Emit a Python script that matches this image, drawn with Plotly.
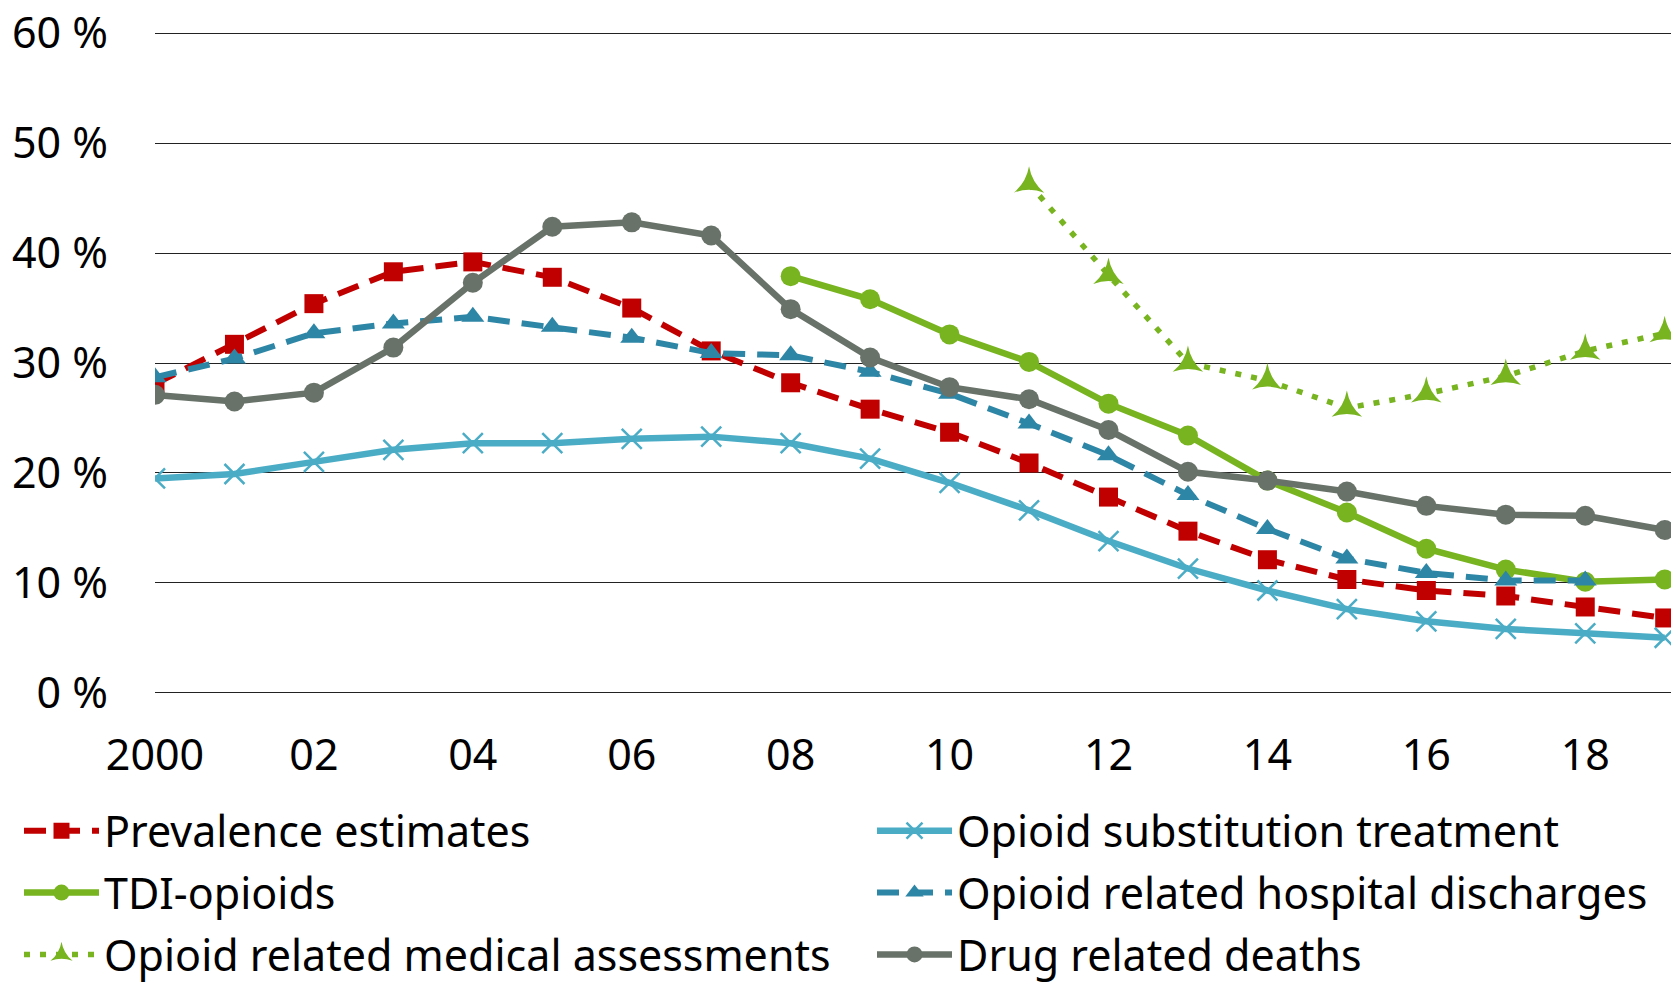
import plotly.graph_objects as go

years = list(range(2000, 2020))

prevalence = [28.1, 31.7, 35.4, 38.3, 39.2, 37.8, 35.0, 31.1, 28.2, 25.8,
              23.7, 20.9, 17.8, 14.7, 12.1, 10.3, 9.3, 8.8, 7.8, 6.8]
ost = [19.5, 19.9, 21.0, 22.1, 22.7, 22.7, 23.1, 23.3, 22.7, 21.3,
       19.1, 16.6, 13.8, 11.3, 9.3, 7.6, 6.5, 5.8, 5.4, 5.0]
tdi_years = list(range(2008, 2020))
tdi = [37.9, 35.8, 32.6, 30.1, 26.3, 23.4, 19.3, 16.4, 13.1, 11.2, 10.1, 10.3]
hosp_years = list(range(2000, 2019))
hospital = [28.7, 30.4, 32.7, 33.6, 34.2, 33.3, 32.3, 30.9, 30.7, 29.2,
            27.2, 24.5, 21.6, 18.0, 14.9, 12.2, 10.9, 10.2, 10.2]
med_years = list(range(2011, 2020))
medical = [46.3, 38.0, 30.0, 28.4, 25.9, 27.2, 28.8, 31.1, 32.7]
deaths = [27.1, 26.5, 27.3, 31.4, 37.3, 42.4, 42.8, 41.6, 34.9, 30.5,
          27.8, 26.7, 23.9, 20.1, 19.3, 18.3, 17.0, 16.2, 16.1, 14.8]

xtick_vals = [2000, 2002, 2004, 2006, 2008, 2010, 2012, 2014, 2016, 2018]
xtick_text = ["2000", "02", "04", "06", "08", "10", "12", "14", "16", "18"]
ytick_vals = [0, 10, 20, 30, 40, 50, 60]
ytick_text = ["0 %", "10 %", "20 %", "30 %", "40 %", "50 %", "60 %"]

fig = go.Figure()
# left legend column
fig.add_trace(go.Scatter(x=years, y=prevalence, name="Prevalence estimates", mode="lines+markers",
                         legend="legend", legendgroup="a",
                         line=dict(color="#C00000", width=6, dash="22px,12px"),
                         marker=dict(symbol="square", size=19, color="#C00000")))
fig.add_trace(go.Scatter(x=tdi_years, y=tdi, name="TDI-opioids", mode="lines+markers",
                         legend="legend", legendgroup="b",
                         line=dict(color="#77B41F", width=6.5),
                         marker=dict(symbol="circle", size=20, color="#77B41F")))
fig.add_trace(go.Scatter(x=med_years, y=medical, name="Opioid related medical assessments", mode="lines+markers",
                         legend="legend", legendgroup="c",
                         line=dict(color="#77B41F", width=5.5, dash="6px,10px"),
                         marker=dict(symbol="star-triangle-up", size=22, color="#77B41F")))
# right legend column
fig.add_trace(go.Scatter(x=years, y=ost, name="Opioid substitution treatment", mode="lines+markers",
                         legend="legend2", legendgroup="d",
                         line=dict(color="#4BACC6", width=6.5),
                         marker=dict(symbol="x-thin", size=20, line=dict(color="#4BACC6", width=2.5))))
fig.add_trace(go.Scatter(x=hosp_years, y=hospital, name="Opioid related hospital discharges", mode="lines+markers",
                         legend="legend2", legendgroup="e",
                         line=dict(color="#2E86A6", width=6, dash="22px,12px"),
                         marker=dict(symbol="triangle-up", size=20, color="#2E86A6")))
fig.add_trace(go.Scatter(x=years, y=deaths, name="Drug related deaths", mode="lines+markers",
                         legend="legend2", legendgroup="f",
                         line=dict(color="#687269", width=6.5),
                         marker=dict(symbol="circle", size=20, color="#687269")))

leg = dict(orientation="v", xref="container", yref="container", xanchor="left",
           y=0.199, yanchor="top", tracegroupgap=3, itemwidth=75,
           font=dict(size=43), bgcolor="rgba(0,0,0,0)")

fig.update_layout(
    width=1679, height=984,
    paper_bgcolor="white", plot_bgcolor="white",
    margin=dict(l=147, r=8, t=22, b=296, autoexpand=False),
    font=dict(family="Noto Sans", size=43, color="black"),
    showlegend=True,
    legend=dict(leg, x=11 / 1679),
    legend2=dict(leg, x=864 / 1679),
)
fig.update_xaxes(range=[2000, 2019.18], tickvals=xtick_vals, ticktext=xtick_text,
                 showgrid=False, showline=False, zeroline=False, ticks="",
                 ticklabelstandoff=30, ticklabeloverflow="allow")
fig.update_yaxes(range=[-0.3, 60.3], tickvals=ytick_vals, ticktext=ytick_text,
                 showgrid=True, gridcolor="#222222", gridwidth=1.2, zeroline=False, showline=False,
                 ticklabelstandoff=46, ticklabeloverflow="allow")

fig.write_html("out.html")
